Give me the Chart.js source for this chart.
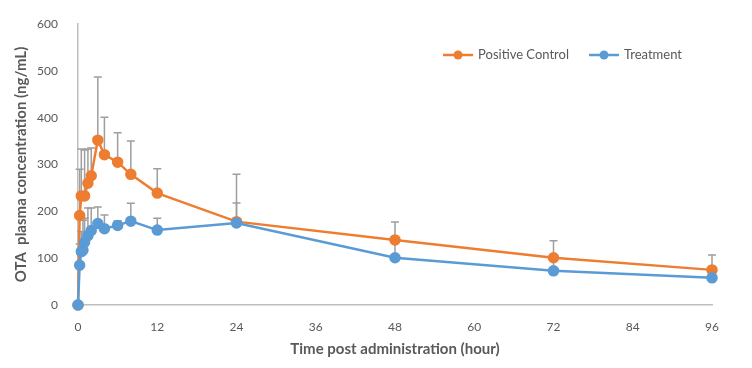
<!DOCTYPE html>
<html lang="en">
<head>
<meta charset="UTF-8">
<title>OTA plasma concentration</title>
<script src="https://cdn.jsdelivr.net/npm/chart.js"></script>
<style>
    html, body { margin: 0; padding: 0; background: #ffffff; }
    .chart-container { width: 752px; height: 368px; }
</style>
</head>
<body>

<div class="chart-container">
    <canvas id="otaChart"></canvas>
</div>

<script>
    // Data (hours / ng/mL, upper error bar)
    const controlHours  = [0, 0.25, 0.5, 1, 1.5, 2, 3, 4, 6, 8, 12, 24, 48, 72, 96];
    const controlValues = [0, 191, 233, 233, 260, 276, 352, 321, 305, 279, 239, 178, 139, 101, 75];
    const controlErrors = [0, 99, 100, 98, 73, 59, 135, 80, 63, 71, 52, 101, 38, 36, 32];

    const treatmentHours  = [0, 0.25, 0.5, 0.75, 1, 1.5, 2, 3, 4, 6, 8, 12, 24, 48, 72, 96];
    const treatmentValues = [0, 85, 114, 117, 134, 148, 159, 174, 163, 170, 179, 160, 175, 101, 73, 58];
    const treatmentErrors = [0, 45, 43, 64, 51, 59, 48, 35, 29, 10, 38, 25, 43, 40, 30, 18];

    const hourTicks = [0, 12, 24, 36, 48, 60, 72, 84, 96];
    const concTicks = [0, 100, 200, 300, 400, 500, 600];

    const ORANGE = '#ED7D31';
    const BLUE = '#5B9BD5';
    const FONT = 'Lato, "Liberation Sans", sans-serif';

    Chart.defaults.font.family = FONT;
    Chart.defaults.color = '#595959';

    function toPoints(xs, ys) {
        return xs.map((x, i) => ({ x: x, y: ys[i] }));
    }

    // upper error bars, drawn under the lines
    const errorBars = {
        id: 'errorBars',
        beforeDatasetsDraw(chart) {
            const { ctx, scales: { x, y } } = chart;
            ctx.save();
            ctx.strokeStyle = '#9E9E9E';
            ctx.lineWidth = 1.5;
            chart.data.datasets.forEach(ds => {
                ds.errors.forEach((err, j) => {
                    if (!err) return;
                    const p = ds.data[j];
                    const px = x.getPixelForValue(p.x);
                    const y0 = y.getPixelForValue(p.y);
                    const y1 = y.getPixelForValue(p.y + err);
                    ctx.beginPath();
                    ctx.moveTo(px, y0); ctx.lineTo(px, y1);
                    ctx.moveTo(px - 4, y1); ctx.lineTo(px + 4, y1);
                    ctx.stroke();
                });
            });
            ctx.restore();
        }
    };

    // Excel-like legend (line + dot) in the top right of the plot area
    const insideLegend = {
        id: 'insideLegend',
        afterDraw(chart) {
            const { ctx, chartArea } = chart;
            const datasets = chart.data.datasets;
            ctx.save();
            ctx.font = '13px ' + FONT;
            ctx.textBaseline = 'middle';
            const markW = 30, gap = 5, itemGap = 20;
            const widths = datasets.map(ds => markW + gap + ctx.measureText(ds.label).width);
            const total = widths.reduce((a, b) => a + b, 0) + itemGap * (datasets.length - 1);
            let left = chartArea.right - 30 - total;
            const cy = chartArea.top + 31;
            datasets.forEach((ds, i) => {
                ctx.strokeStyle = ds.borderColor;
                ctx.lineWidth = 2.5;
                ctx.beginPath();
                ctx.moveTo(left, cy); ctx.lineTo(left + markW, cy);
                ctx.stroke();
                ctx.fillStyle = ds.borderColor;
                ctx.beginPath();
                ctx.arc(left + markW / 2, cy, 4.5, 0, Math.PI * 2);
                ctx.fill();
                ctx.fillStyle = '#595959';
                ctx.fillText(ds.label, left + markW + gap, cy);
                left += widths[i] + itemGap;
            });
            ctx.restore();
        }
    };

    new Chart(document.getElementById('otaChart'), {
        type: 'line',
        data: {
            datasets: [{
                label: 'Positive Control',
                data: toPoints(controlHours, controlValues),
                errors: controlErrors,
                order: 1,
                clip: false,
                borderColor: ORANGE,
                backgroundColor: ORANGE,
                borderWidth: 2.5,
                pointRadius: 4.5,
                pointHoverRadius: 5
            }, {
                label: 'Treatment',
                data: toPoints(treatmentHours, treatmentValues),
                errors: treatmentErrors,
                order: 0,
                clip: false,
                borderColor: BLUE,
                backgroundColor: BLUE,
                borderWidth: 2.5,
                pointRadius: 4.5,
                pointHoverRadius: 5
            }]
        },
        plugins: [errorBars, insideLegend],
        options: {
            responsive: true,
            maintainAspectRatio: false,
            animation: false,
            layout: { padding: { top: 24, right: 40, left: 8, bottom: 6 } },
            plugins: {
                legend: { display: false },
                tooltip: { enabled: true }
            },
            scales: {
                x: {
                    type: 'linear',
                    min: 0,
                    max: 96,
                    afterBuildTicks(scale) {
                        scale.ticks = hourTicks.map(v => ({ value: v }));
                    },
                    afterFit(scale) { scale.height = 57; },
                    grid: { display: false },
                    border: { display: true, color: '#BFBFBF', width: 1.5 },
                    ticks: { font: { size: 12 }, padding: 7 },
                    title: {
                        display: true,
                        text: 'Time post administration (hour)',
                        font: { size: 15, weight: 'bold' },
                        padding: { top: 3 }
                    }
                },
                y: {
                    min: 0,
                    max: 600,
                    afterBuildTicks(scale) {
                        scale.ticks = concTicks.map(v => ({ value: v }));
                    },
                    afterFit(scale) { scale.width = 70; },
                    grid: { display: false },
                    border: { display: true, color: '#BFBFBF', width: 1.5 },
                    ticks: { font: { size: 12 }, padding: 12 },
                    title: {
                        display: true,
                        text: 'OTA  plasma concentration (ng/mL)',
                        font: { size: 15, weight: 'bold' },
                        padding: { bottom: 6 }
                    }
                }
            }
        }
    });
</script>

</body>
</html>
